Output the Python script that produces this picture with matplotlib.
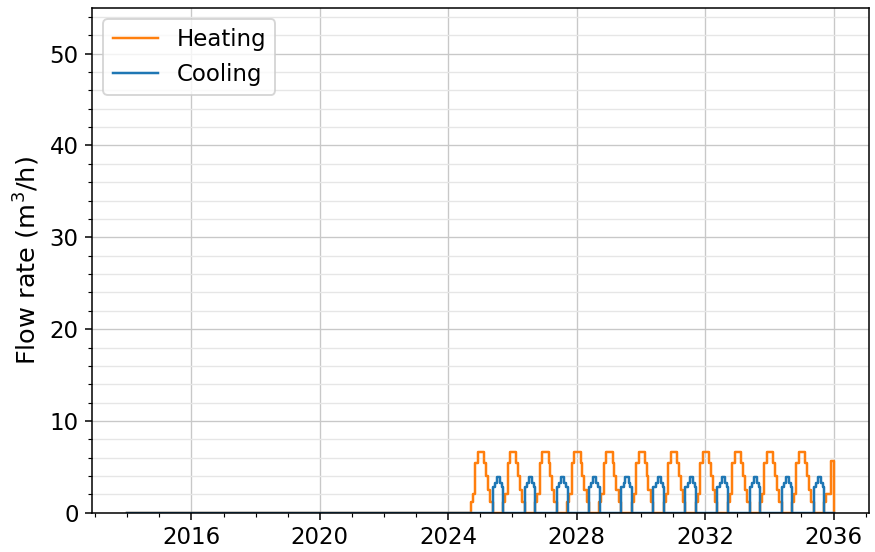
import numpy as np
import matplotlib
matplotlib.use("Agg")
import matplotlib.pyplot as plt
from matplotlib.ticker import MultipleLocator

# simulation window (years)
start_year = 2014.0
end_year = 2036.0
full_years = list(range(2025, 2036))

# yearly heating profile: step edges in months relative to Jan 1, values in m3/h
heat_edges = [-3.5, -2.75, -1.85, -0.9, 1.5, 2.1, 2.8, 3.7, 4.6]
heat_vals = [1.2, 2.0, 5.4, 6.6, 5.4, 4.0, 2.5, 1.2]

# yearly cooling profile
cool_edges = [4.6, 5.5, 6.2, 7.4, 8.1, 8.6]
cool_vals = [2.8, 3.3, 3.9, 3.3, 2.8]

# last (partial) heating season before the end of the run
last_edges = [-3.5, -2.75, -0.9, 0.0]
last_vals = [1.2, 2.0, 5.6]


def build_series(edges, vals, years, tail_edges=None, tail_vals=None):
    t = [start_year]
    v = [0.0]
    for y in years:
        for e, val in zip(edges[:-1], vals):
            t.append(y + e / 12.0)
            v.append(val)
        t.append(y + edges[-1] / 12.0)
        v.append(0.0)
    if tail_edges is not None:
        for e, val in zip(tail_edges[:-1], tail_vals):
            t.append(end_year + e / 12.0)
            v.append(val)
    t.append(end_year)
    v.append(0.0)
    return np.array(t), np.array(v)


heat_t, heat_v = build_series(heat_edges, heat_vals, full_years, last_edges, last_vals)
cool_t, cool_v = build_series(cool_edges, cool_vals, full_years)

plt.rcParams['font.size'] = 12

fig, ax = plt.subplots(figsize=(875 / 137.5, 552 / 137.5), dpi=137.5)
fig.subplots_adjust(left=0.105, right=0.993, bottom=0.071, top=0.986)

ax.plot(heat_t, heat_v, drawstyle='steps-post', color='#ff7f0e', lw=1.3, label='Heating')
ax.plot(cool_t, cool_v, drawstyle='steps-post', color='#1f77b4', lw=1.3, label='Cooling')

ax.set_ylim(0, 55)
ax.yaxis.set_major_locator(MultipleLocator(10))
ax.yaxis.set_minor_locator(MultipleLocator(2))
ax.xaxis.set_major_locator(MultipleLocator(4))
ax.xaxis.set_minor_locator(MultipleLocator(1))
ax.xaxis.set_major_formatter(plt.FuncFormatter(lambda x, p: f"{int(round(x))}"))

ax.grid(which='major', color='#c8c8c8', lw=0.7)
ax.grid(which='minor', axis='y', color='#e6e6e6', lw=0.7)
ax.set_axisbelow(True)

ax.set_ylabel('Flow rate (m$^3$/h)', fontsize=13.4)
ax.legend(loc='upper left')

fig.savefig('out.png', dpi=137.5)
